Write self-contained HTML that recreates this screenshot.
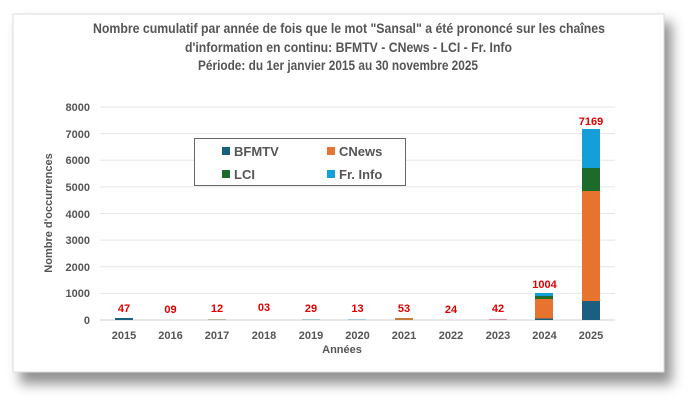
<!DOCTYPE html>
<html><head><meta charset="utf-8"><style>
body{margin:0;background:#fff;width:696px;height:405px;overflow:hidden}
svg{display:block;font-family:"Liberation Sans",sans-serif}
</style></head><body>
<svg width="696" height="405" viewBox="0 0 696 405">
<defs><filter id="sh" x="-5%" y="-5%" width="115%" height="125%"><feGaussianBlur stdDeviation="6"/></filter></defs>
<rect x="20" y="22" width="652" height="362" fill="#777" filter="url(#sh)" opacity="0.8"/>
<rect x="13" y="14" width="651" height="358" fill="#fff" stroke="#ddd"/>
<g font-weight="bold" fill="#555" font-size="13.5">
<text x="93" y="33" textLength="512" lengthAdjust="spacingAndGlyphs">Nombre cumulatif par année de fois que le mot "Sansal" a été prononcé sur les chaînes</text>
<text x="185" y="52" textLength="327" lengthAdjust="spacingAndGlyphs">d'information en continu: BFMTV - CNews - LCI - Fr. Info</text>
<text x="198" y="70" textLength="280" lengthAdjust="spacingAndGlyphs">Période: du 1er janvier 2015 au 30 novembre 2025</text>
</g>
<g stroke="#e6e6e6" stroke-width="1">
<line x1="100" x2="615" y1="107" y2="107"/><line x1="100" x2="615" y1="133.6" y2="133.6"/>
<line x1="100" x2="615" y1="160.3" y2="160.3"/><line x1="100" x2="615" y1="186.9" y2="186.9"/>
<line x1="100" x2="615" y1="213.5" y2="213.5"/><line x1="100" x2="615" y1="240.1" y2="240.1"/>
<line x1="100" x2="615" y1="266.8" y2="266.8"/><line x1="100" x2="615" y1="293.4" y2="293.4"/>
</g>
<line x1="100" x2="615" y1="320" y2="320" stroke="#d0d0d0"/>
<g fill="#555" font-size="11" font-weight="bold" text-anchor="end">
<text x="90" y="111">8000</text><text x="90" y="138">7000</text><text x="90" y="164">6000</text>
<text x="90" y="191">5000</text><text x="90" y="218">4000</text><text x="90" y="244">3000</text>
<text x="90" y="271">2000</text><text x="90" y="297">1000</text><text x="90" y="324">0</text>
</g>
<text transform="translate(52,213) rotate(-90)" fill="#555" font-size="11" font-weight="bold" text-anchor="middle">Nombre d'occurrences</text>
<g fill="#555" font-size="11" font-weight="bold" text-anchor="middle">
<text x="124" y="339">2015</text><text x="170.5" y="339">2016</text><text x="217" y="339">2017</text>
<text x="264" y="339">2018</text><text x="311" y="339">2019</text><text x="357.5" y="339">2020</text>
<text x="404" y="339">2021</text><text x="451" y="339">2022</text><text x="498" y="339">2023</text>
<text x="544.5" y="339">2024</text><text x="591" y="339">2025</text>
<text x="342" y="353">Années</text>
</g>
<g fill="#e00000" font-size="11" font-weight="bold" text-anchor="middle">
<text x="124" y="312">47</text><text x="170.5" y="313">09</text><text x="217" y="312">12</text>
<text x="264" y="311">03</text><text x="311" y="312">29</text><text x="357.5" y="312">13</text>
<text x="404" y="312">53</text><text x="451" y="313">24</text><text x="498" y="312">42</text>
<text x="544.5" y="288">1004</text><text x="591" y="125">7169</text>
</g>
<rect x="115" y="318" width="18" height="2" fill="#1a5e80"/>
<rect x="208" y="319" width="18" height="1" fill="#bba"/>
<rect x="302" y="319" width="18" height="1" fill="#acc"/>
<rect x="348" y="319" width="18" height="1" fill="#acd"/>
<rect x="395" y="318" width="18" height="2" fill="#c87a3a"/>
<rect x="489" y="319" width="18" height="1" fill="#d9a"/>
<rect x="535" y="318.5" width="18" height="1.5" fill="#1a5e80"/>
<rect x="535" y="299" width="18" height="19.5" fill="#e8732f"/>
<rect x="535" y="296" width="18" height="3" fill="#1d6b2a"/>
<rect x="535" y="293" width="18" height="3" fill="#159fd8"/>
<rect x="582" y="301" width="18" height="19" fill="#1a5e80"/>
<rect x="582" y="191" width="18" height="110" fill="#e8732f"/>
<rect x="582" y="168" width="18" height="23" fill="#1d6b2a"/>
<rect x="582" y="129" width="18" height="39" fill="#159fd8"/>
<rect x="194.5" y="138.5" width="211" height="47" fill="#fff" stroke="#666"/>
<g font-size="13" font-weight="bold" fill="#555">
<rect x="222" y="147" width="8" height="8" fill="#1a5e80"/><text x="234" y="156">BFMTV</text>
<rect x="327" y="147" width="8" height="8" fill="#e8732f"/><text x="339" y="156">CNews</text>
<rect x="222" y="170" width="8" height="8" fill="#1d6b2a"/><text x="234" y="179">LCI</text>
<rect x="327" y="170" width="8" height="8" fill="#159fd8"/><text x="339" y="179">Fr. Info</text>
</g>
</svg>
</body></html>
